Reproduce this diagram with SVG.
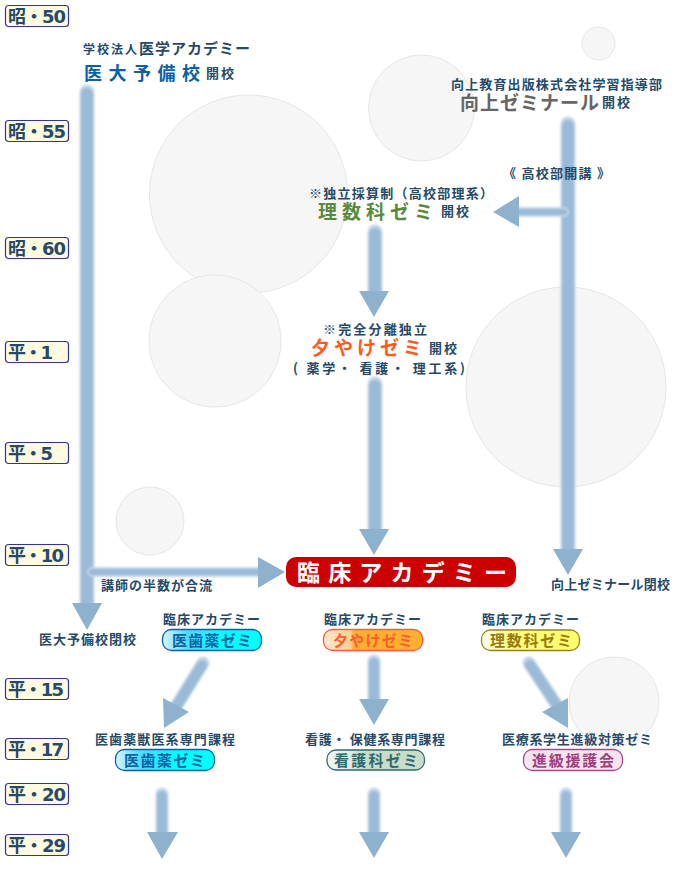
<svg xmlns="http://www.w3.org/2000/svg" width="675" height="870" viewBox="0 0 675 870">
<style>
text{font-family:"Noto Sans CJK JP","Noto Sans",sans-serif;font-weight:700;fill:#264a68;font-size:13px}
.yr rect{fill:#fffae0;stroke:#33339a;stroke-width:1.2}
.yr text{font-family:"DejaVu Sans","Noto Sans CJK JP",sans-serif;font-size:18px;fill:#264a68}
.bg{fill:#f6f6f6;stroke:#e6e6e6;stroke-width:1}
.o{stroke:#c2d6e8;stroke-linecap:round;fill:none}
.i{stroke:#9abad7;stroke-linecap:round;fill:none}
.h{fill:#8eb1ce}
.w16{stroke-width:15}.w11{stroke-width:12}.w13{stroke-width:13}.w8{stroke-width:10}.w10{stroke-width:10}.w6{stroke-width:6}
.soft{filter:url(#soft)}
.pill{stroke-width:1.3}
.t{font-size:15px}
.big{font-size:19px}
</style>
<defs>
<filter id="soft" x="-30%" y="-30%" width="160%" height="160%"><feGaussianBlur stdDeviation="1"/></filter>
<linearGradient id="gc" x1="0" x2="1" y1="0" y2="0"><stop offset="0" stop-color="#d8f4ff"/><stop offset=".25" stop-color="#50dcff"/><stop offset=".6" stop-color="#00ffff"/></linearGradient>
<linearGradient id="go" x1="0" x2="1" y1="0" y2="0"><stop offset="0" stop-color="#ffe8d0"/><stop offset=".28" stop-color="#ffd090"/><stop offset=".3" stop-color="#ffb030"/></linearGradient>
<linearGradient id="gy" x1="0" x2="1" y1="0" y2="0"><stop offset="0" stop-color="#fffff0"/><stop offset=".3" stop-color="#ffff80"/><stop offset="1" stop-color="#ffff66"/></linearGradient>
<linearGradient id="gg" x1="0" x2="1" y1="0" y2="0"><stop offset="0" stop-color="#f4f8f6"/><stop offset=".28" stop-color="#dce6e0"/><stop offset=".32" stop-color="#c8dcc8"/></linearGradient>
</defs>
<g id="circles">
<circle class="bg" cx="248.500" cy="194" r="99"/>
<circle class="bg" cx="421.500" cy="108" r="53"/>
<circle class="bg" cx="215" cy="341" r="66"/>
<circle class="bg" cx="566" cy="387" r="100"/>
<circle class="bg" cx="150" cy="521" r="34"/>
<circle class="bg" cx="598.500" cy="43.500" r="16.500"/>
</g>
<g id="connectors">
<g class="soft">
<line class="o w16" x1="87" y1="92" x2="87" y2="604"/><line class="i w11" x1="87" y1="94" x2="87" y2="604"/>
<line class="o w10" x1="92" y1="572" x2="259" y2="572"/><line class="i w6" x1="92" y1="572" x2="259" y2="572"/>
<line class="o w16" x1="568" y1="124" x2="568" y2="550"/><line class="i w11" x1="568" y1="126" x2="568" y2="550"/>
<line class="o w10" x1="518" y1="212" x2="564" y2="212"/><line class="i w6" x1="518" y1="212" x2="564" y2="212"/>
<line class="o w16" x1="375" y1="232" x2="375" y2="292"/><line class="i w11" x1="375" y1="234" x2="375" y2="292"/>
<line class="o w16" x1="375" y1="384" x2="375" y2="530"/><line class="i w11" x1="375" y1="386" x2="375" y2="530"/>
<line class="o w13" x1="203" y1="663" x2="174" y2="710"/><line class="i w8" x1="202" y1="665" x2="174" y2="710"/>
<line class="o w13" x1="374" y1="661" x2="374" y2="700"/><line class="i w8" x1="374" y1="663" x2="374" y2="700"/>
<line class="o w13" x1="529" y1="663" x2="558" y2="707"/><line class="i w8" x1="530" y1="665" x2="558" y2="707"/>
<line class="o w13" x1="162" y1="794" x2="162" y2="833"/><line class="i w8" x1="162" y1="796" x2="162" y2="833"/>
<line class="o w13" x1="374" y1="794" x2="374" y2="833"/><line class="i w8" x1="374" y1="796" x2="374" y2="833"/>
<line class="o w13" x1="566" y1="794" x2="566" y2="833"/><line class="i w8" x1="566" y1="796" x2="566" y2="833"/>
</g>
<polygon class="h" points="72,603 102,603 87,630"/>
<polygon class="h" points="258,557 258,588 285,572"/>
<polygon class="h" points="553,549 583,549 568,575"/>
<polygon class="h" points="519,196 519,227 493,212"/>
<polygon class="h" points="359,291 389,291 374,317"/>
<polygon class="h" points="359,529 389,529 374,555"/>
<polygon class="h" points="163,698 189,712 164,728"/>
<polygon class="h" points="359,699 389,699 374,725"/>
<polygon class="h" points="568,698 542,712 568,728"/>
<polygon class="h" points="147,832 178,832 162,859"/>
<polygon class="h" points="359,832 389,832 374,858"/>
<polygon class="h" points="551,832 581,832 566,858"/>
</g>
<circle class="bg" cx="614" cy="702" r="45"/>
<g id="year-s50" class="yr"><rect x="5.500" y="5.500" width="63" height="21" rx="3"/><text x="8" y="22.500" textLength="58">昭・50</text></g>
<g id="year-s55" class="yr"><rect x="5.500" y="120.500" width="63" height="21" rx="3"/><text x="8" y="137.500" textLength="58">昭・55</text></g>
<g id="year-s60" class="yr"><rect x="5.500" y="237.500" width="63" height="21" rx="3"/><text x="8" y="254.500" textLength="58">昭・60</text></g>
<g id="year-h1" class="yr"><rect x="5.500" y="341.500" width="63" height="21" rx="3"/><text x="8" y="358.500" textLength="45">平・1</text></g>
<g id="year-h5" class="yr"><rect x="5.500" y="442.500" width="63" height="21" rx="3"/><text x="8" y="459.500" textLength="45">平・5</text></g>
<g id="year-h10" class="yr"><rect x="5.500" y="544.500" width="63" height="21" rx="3"/><text x="8" y="561.500" textLength="56">平・10</text></g>
<g id="year-h15" class="yr"><rect x="5.500" y="678.500" width="63" height="21" rx="3"/><text x="8" y="695.500" textLength="56">平・15</text></g>
<g id="year-h17" class="yr"><rect x="5.500" y="738.500" width="63" height="21" rx="3"/><text x="8" y="755.500" textLength="56">平・17</text></g>
<g id="year-h20" class="yr"><rect x="5.500" y="783.500" width="63" height="21" rx="3"/><text x="8" y="800.500" textLength="58">平・20</text></g>
<g id="year-h29" class="yr"><rect x="5.500" y="834.500" width="63" height="21" rx="3"/><text x="8" y="851.500" textLength="58">平・29</text></g>
<g id="idai-yobiko">
<text x="83" y="54" style="font-size:12px" textLength="54">学校法人</text><text class="t" x="139" y="54" textLength="111">医学アカデミー</text>
<text x="84" y="80" style="font-size:18px;fill:#0a5fa8" textLength="116">医大予備校</text><text x="206" y="78" textLength="28">開校</text>
</g>
<g id="kojo-zemi">
<text x="451" y="89" textLength="211">向上教育出版株式会社学習指導部</text>
<text class="big" x="460" y="110" style="fill:#666" textLength="139">向上ゼミナール</text><text x="602" y="107" textLength="28">開校</text>
</g>
<g id="kokobu"><text x="503" y="178" textLength="107">《 高校部開講 》</text></g>
<g id="risuka">
<text x="309" y="198" textLength="184">※独立採算制（高校部理系）</text>
<text class="big" x="318" y="219" style="fill:#5a8a3c" textLength="115">理数科ゼミ</text><text x="441" y="216" textLength="28">開校</text>
</g>
<g id="yuyake">
<text x="323" y="334" textLength="104">※完全分離独立</text>
<text class="big" x="311" y="355" style="fill:#ff5a1e" textLength="111">夕やけゼミ</text><text x="429" y="353" textLength="28">開校</text>
<text x="293" y="373" textLength="172">( 薬学・ 看護・ 理工系)</text>
</g>
<g id="rinsho"><rect x="286" y="557" width="230" height="30" rx="10" fill="#cc0000"/><text x="297" y="581" style="font-size:23px;fill:#fff;font-family:'Liberation Serif','Noto Sans CJK JP',serif" textLength="210">臨床アカデミー</text></g>
<g id="note-join"><text x="101" y="590" textLength="111">講師の半数が合流</text></g>
<g id="note-close1"><text x="39" y="644" textLength="97">医大予備校閉校</text></g>
<g id="note-close2"><text x="551" y="589" textLength="119">向上ゼミナール閉校</text></g>
<g id="p1"><text x="163" y="624" textLength="97">臨床アカデミー</text><rect class="pill" x="162.500" y="629.500" width="99" height="21" rx="9" fill="url(#gc)" stroke="#0a5fa8"/><text class="t" x="172" y="645.500" style="fill:#0a62a8" textLength="80">医歯薬ゼミ</text></g>
<g id="p2"><text x="324" y="624" textLength="97">臨床アカデミー</text><rect class="pill" x="323.500" y="629.500" width="99" height="21" rx="9" fill="url(#go)" stroke="#ff5a3c"/><text class="t" x="333" y="645.500" style="fill:#ff5a30" textLength="80">夕やけゼミ</text></g>
<g id="p3"><text x="482" y="624" textLength="97">臨床アカデミー</text><rect class="pill" x="481.500" y="630" width="98" height="20.500" rx="9" fill="url(#gy)" stroke="#9a8020"/><text class="t" x="490" y="645.500" style="fill:#9a7a10" textLength="82">理数科ゼミ</text></g>
<g id="c1"><text x="95" y="744" textLength="140">医歯薬獣医系専門課程</text><rect class="pill" x="115.500" y="749.500" width="99" height="21" rx="9" fill="url(#gc)" stroke="#0a5fa8"/><text class="t" x="124" y="765.500" style="fill:#0a62a8" textLength="81">医歯薬ゼミ</text></g>
<g id="c2"><text x="305" y="744" textLength="140">看護・ 保健系専門課程</text><rect class="pill" x="327" y="750" width="97.500" height="20" rx="9" fill="url(#gg)" stroke="#2f6a70"/><text class="t" x="334" y="765.500" style="fill:#2f6a70" textLength="84">看護科ゼミ</text></g>
<g id="c3"><text x="502" y="744" textLength="150">医療系学生進級対策ゼミ</text><rect class="pill" x="523.500" y="749.500" width="99" height="21" rx="9" fill="#f8e4f0" stroke="#a84888"/><text class="t" x="532" y="765.500" style="fill:#a04080" textLength="82">進級援護会</text></g>
</svg>
